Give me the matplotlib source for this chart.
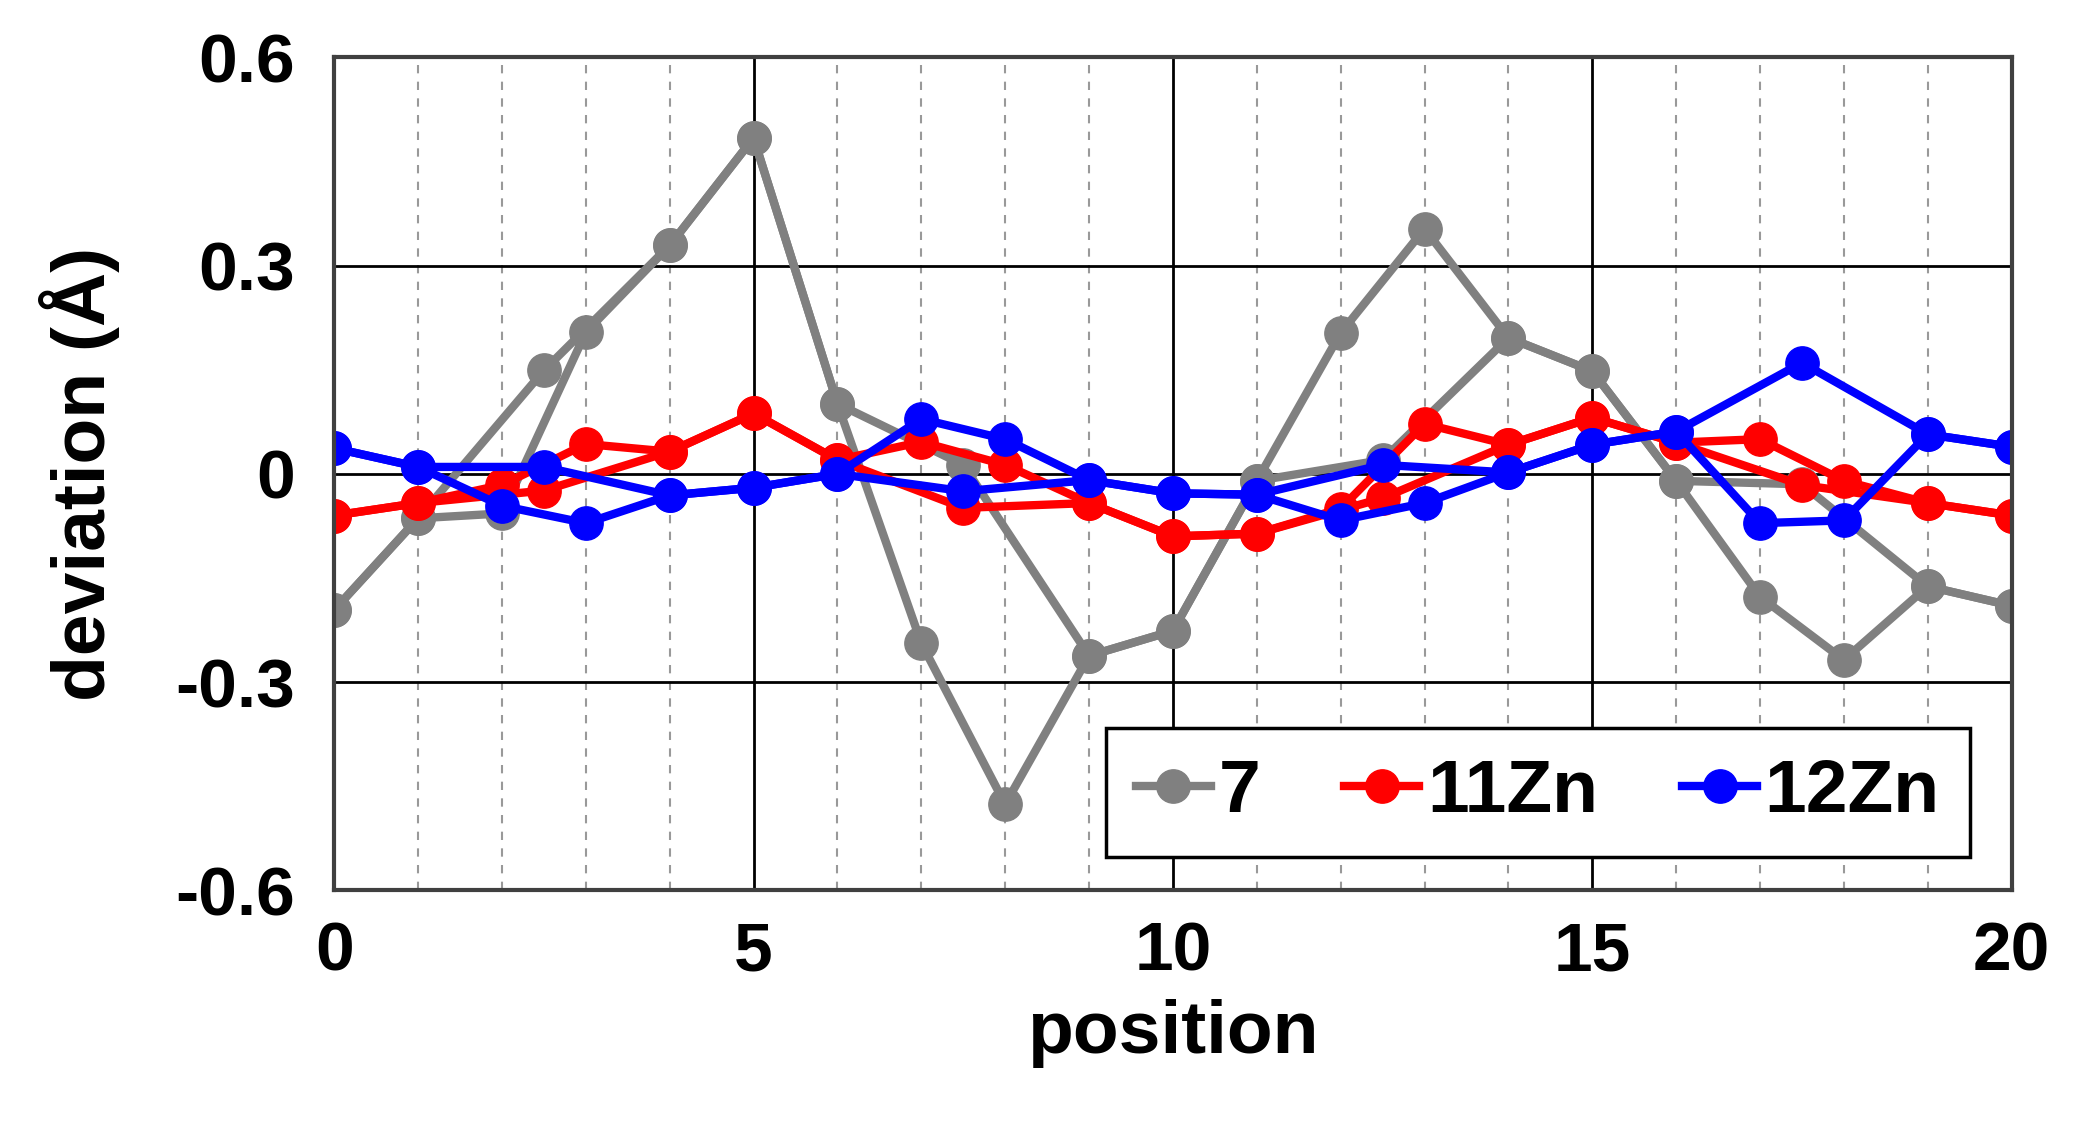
import matplotlib
matplotlib.use("Agg")
import matplotlib.pyplot as plt
from matplotlib.ticker import MultipleLocator

# integer positions 0..20 (path A) and extra half positions (path B)
pos_a = list(range(21))
pos_half = [2.5, 7.5, 12.5, 17.5]
pos_b = [0, 1, 2.5, 4, 5, 6, 7.5, 9, 10, 11, 12.5, 14, 15, 16, 17.5, 19, 20]

gray_a = [-0.196, -0.064, -0.057, 0.204, 0.329, 0.484, 0.101, -0.244, -0.476, -0.262, -0.226,
          -0.01, 0.203, 0.353, 0.196, 0.148, -0.01, -0.177, -0.268, -0.162, -0.19]
gray_half = [0.149, 0.013, 0.02, -0.015]

red_a = [-0.06, -0.042, -0.016, 0.043, 0.032, 0.087, 0.02, 0.046, 0.013, -0.042, -0.09,
         -0.086, -0.05, 0.072, 0.042, 0.081, 0.045, 0.05, -0.01, -0.042, -0.06]
red_half = [-0.024, -0.049, -0.035, -0.016]

blue_a = [0.037, 0.01, -0.046, -0.071, -0.031, -0.02, 0.0, 0.079, 0.05, -0.009, -0.028,
          -0.03, -0.067, -0.042, 0.002, 0.042, 0.061, -0.071, -0.067, 0.057, 0.039]
blue_half = [0.01, -0.025, 0.013, 0.16]

series = [("7", "#808080", gray_a, gray_half),
          ("11Zn", "#ff0000", red_a, red_half),
          ("12Zn", "#0000ff", blue_a, blue_half)]


def path_b(vals_a, vals_half):
    lookup = dict(zip(pos_a, vals_a))
    lookup.update(dict(zip(pos_half, vals_half)))
    return [lookup[p] for p in pos_b]


plt.rcParams["font.family"] = ["Liberation Sans", "DejaVu Sans"]
plt.rcParams["font.weight"] = "bold"

fig = plt.figure(figsize=(20.76, 11.46), dpi=100)
ax = fig.add_axes([0.161, 0.223, 0.808, 0.727])

for label, color, vals_a, vals_half in series:
    kw = dict(color=color, lw=6, marker="o", ms=24, solid_joinstyle="round")
    ax.plot(pos_a, vals_a, label=label, **kw)
    ax.plot(pos_b, path_b(vals_a, vals_half), **kw)

ax.set_xlim(0, 20)
ax.set_ylim(-0.6, 0.6)
ax.xaxis.set_major_locator(MultipleLocator(5))
ax.xaxis.set_minor_locator(MultipleLocator(1))
ax.yaxis.set_major_locator(MultipleLocator(0.3))
ax.grid(which="major", color="black", lw=2, zorder=0)
ax.grid(which="minor", axis="x", color="#999999", lw=1.5, ls=(0, (4, 4)), zorder=0)
ax.set_axisbelow(True)
ax.set_yticks([-0.6, -0.3, 0, 0.3, 0.6])
ax.set_yticklabels(["-0.6", "-0.3", "0", "0.3", "0.6"])
ax.tick_params(which="both", length=0, labelsize=50, pad=22)
ax.tick_params(axis="y", pad=28)
for s in ax.spines.values():
    s.set_color("#404040")
    s.set_linewidth(3)

ax.set_xlabel("position", fontsize=54, fontweight="bold", labelpad=10)
ax.set_ylabel("deviation (Å)", fontsize=54, fontweight="bold", labelpad=40)

handles, labels = ax.get_legend_handles_labels()
leg = ax.legend(handles, labels, loc="lower left", bbox_to_anchor=(0.46, 0.04, 0.515, 0.16),
                mode="expand", ncol=3, fontsize=54, frameon=True, fancybox=False,
                handlelength=1.0, handletextpad=0.1, columnspacing=0.4, borderaxespad=0)
leg.get_frame().set_edgecolor("black")
leg.get_frame().set_linewidth(2.5)
leg.get_frame().set_alpha(1)

fig.savefig("out.png", dpi=100)
